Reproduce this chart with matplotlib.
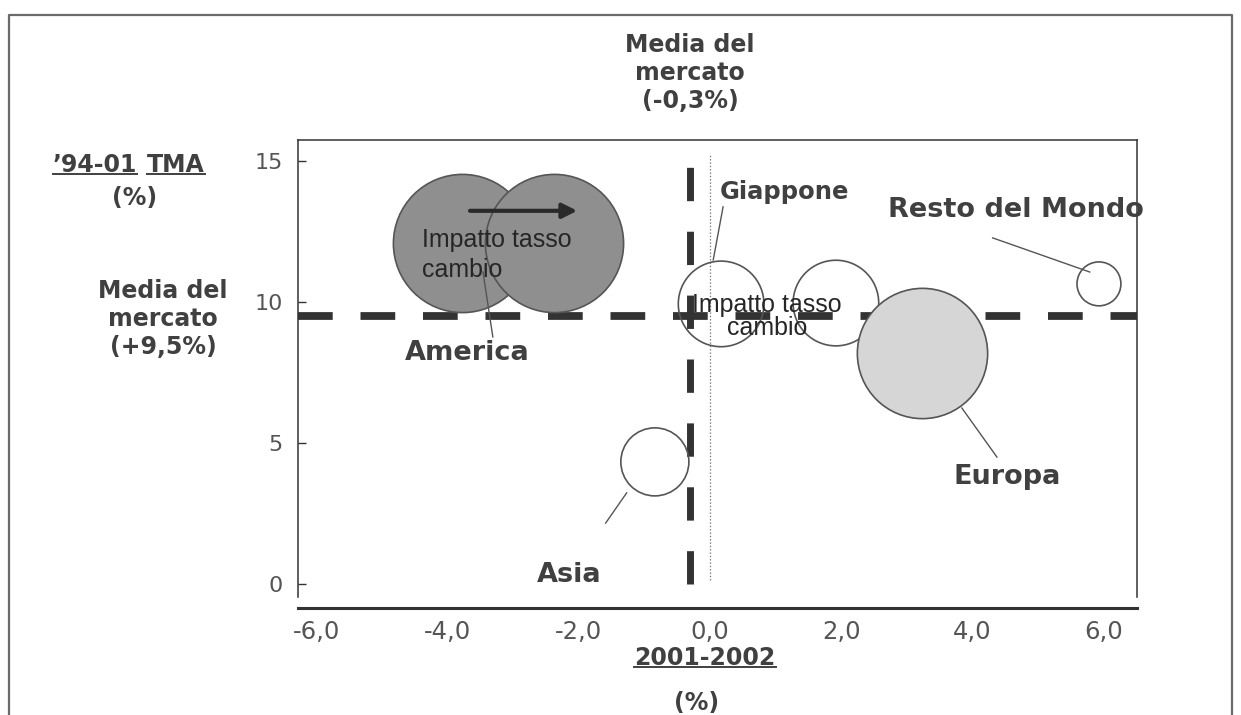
import numpy as np
import matplotlib.pyplot as plt
from matplotlib.lines import Line2D

plt.rcParams['font.family'] = ['DejaVu Sans']
plt.rcParams['lines.scale_dashes'] = False

# =========================
# DATI
# =========================
aree = ['America', 'America (cambio)', 'Giappone', 'Giappone (cambio)',
        'Europa', 'Resto del Mondo', 'Asia']
crescita_01_02 = [-3.78, -2.38, 0.17, 1.92, 3.23, 5.93, -0.84]   # asse x (%)
tma_94_01 = [12.1, 12.1, 9.93, 9.96, 8.19, 10.64, 4.33]          # asse y (%)
dimensione = [9.9, 9.9, 3.8, 3.8, 8.8, 1.0, 2.4]                 # area bolla

media_x = -0.3
media_y = 9.5

x_ticks = [-6, -4, -2, 0, 2, 4, 6]
x_tick_labels = ['-6,0', '-4,0', '-2,0', '0,0', '2,0', '4,0', '6,0']
y_ticks = [0, 5, 10, 15]
y_tick_labels = ['0', '5', '10', '15']

# stile delle bolle
riempimento = {'America': '#8f8f8f', 'America (cambio)': '#8f8f8f',
               'Europa': '#d6d6d6'}

# =========================
# FIGURA
# =========================
W, H = 1241, 715
fig = plt.figure(figsize=(W / 100, H / 100), dpi=100)


def fx(px):
    return px / W


def fy(py):
    return 1 - py / H


ax = fig.add_axes([fx(298), fy(608), (1137 - 298) / W, (608 - 140) / H])
ax.set_xlim(-6.28, 6.51)
ax.set_ylim(-0.85, 15.74)

# linee della media di mercato
ax.axhline(media_y, color='#333333', lw=5.6, dashes=(25, 20), zorder=2)
ax.plot([media_x, media_x], [0, 14.82], color='#333333', lw=5.0,
        dashes=(24, 22), zorder=2)
ax.plot([0, 0], [0.15, 15.2], color='#777777', lw=0.9,
        ls=(0, (1, 1.4)), zorder=1)

# bolle
for nome, xv, yv, d in zip(aree, crescita_01_02, tma_94_01, dimensione):
    fc = riempimento.get(nome, 'none')
    ax.scatter(xv, yv, s=d * 1000, facecolors=fc, edgecolors='#555555',
               linewidths=1.2, zorder=3)

# freccia effetto cambio
ax.annotate('', xy=(-1.98, 13.23), xytext=(-3.70, 13.23),
            arrowprops=dict(arrowstyle='-|>', color='#2a2a2a', lw=3,
                            mutation_scale=22), zorder=5)

ax.text(-4.39, 11.67, 'Impatto tasso\ncambio', ha='left', va='center',
        fontsize=18, color='#262626', linespacing=1.3,
        family=['Liberation Sans', 'DejaVu Sans'], zorder=5)
ax.text(0.87, 9.49, 'Impatto tasso\ncambio', ha='center', va='center',
        fontsize=18, color='#262626', linespacing=0.95,
        family=['Liberation Sans', 'DejaVu Sans'], zorder=5)

# etichette con linee guida
guida = dict(color='#555555', lw=1.0, zorder=4)
ax.plot([-3.46, -3.31], [11.06, 8.76], **guida)
ax.plot([0.20, 0.05], [13.37, 11.49], **guida)
ax.plot([3.84, 4.375], [6.24, 4.50], **guida)
ax.plot([4.31, 5.79], [12.27, 11.06], **guida)
ax.plot([-1.27, -1.59], [3.23, 2.16], **guida)

etich = dict(fontweight='bold', color='#404040', va='center', zorder=5)
ax.text(-3.70, 8.19, 'America', ha='center', fontsize=19.5, **etich)
ax.text(0.15, 13.90, 'Giappone', ha='left', fontsize=17.5, **etich)
ax.text(4.53, 3.79, 'Europa', ha='center', fontsize=19.5, **etich)
ax.text(4.66, 13.26, 'Resto del Mondo', ha='center', fontsize=19.5, **etich)
ax.text(-2.15, 0.32, 'Asia', ha='center', fontsize=19.5, **etich)

# assi
ax.set_xticks(x_ticks)
ax.set_xticklabels(x_tick_labels)
ax.set_yticks(y_ticks)
ax.set_yticklabels(y_tick_labels)
ax.tick_params(axis='x', length=0, pad=9, labelsize=17.5, labelcolor='#555555')
ax.tick_params(axis='y', direction='in', length=6, width=1, pad=11,
               labelsize=16, labelcolor='#555555', color='#333333')
for lato in ['top', 'left', 'right']:
    ax.spines[lato].set_linewidth(1.1)
    ax.spines[lato].set_color('#333333')
ax.spines['left'].set_bounds(-0.45, 15.74)
ax.spines['right'].set_bounds(-0.45, 15.74)
ax.spines['bottom'].set_linewidth(2.2)
ax.spines['bottom'].set_color('#333333')

# titoli degli assi
tit = dict(fontweight='bold', color='#404040', fontsize=17)
t1 = fig.text(fx(137), fy(165), '\u201994-01', ha='right', va='center', **tit)
t2 = fig.text(fx(147), fy(165), 'TMA', ha='left', va='center', **tit)
fig.text(fx(135), fy(198), '(%)', ha='center', va='center', **tit)
fig.text(fx(163), fy(319), 'Media del\nmercato\n(+9,5%)', ha='center',
         va='center', multialignment='center', linespacing=1.2, **tit)
fig.text(fx(690), fy(73), 'Media del\nmercato\n(-0,3%)', ha='center',
         va='center', multialignment='center', linespacing=1.2, **tit)
t3 = fig.text(fx(705), fy(658), '2001-2002', ha='center', va='center', **tit)
fig.text(fx(697), fy(703), '(%)', ha='center', va='center', **tit)

# cornice esterna
fig.add_artist(Line2D([fx(9), fx(9), fx(1232), fx(1232)],
                      [fy(716), fy(15), fy(15), fy(716)],
                      color='#6a6a6a', lw=1.6))

# sottolineature
fig.canvas.draw()
for t in [t1, t2, t3]:
    bb = t.get_window_extent()
    yl = (bb.y0 + 3) / H
    fig.add_artist(Line2D([bb.x0 / W, bb.x1 / W], [yl, yl],
                          color='#404040', lw=1.4))

fig.savefig('out.png', dpi=100)
